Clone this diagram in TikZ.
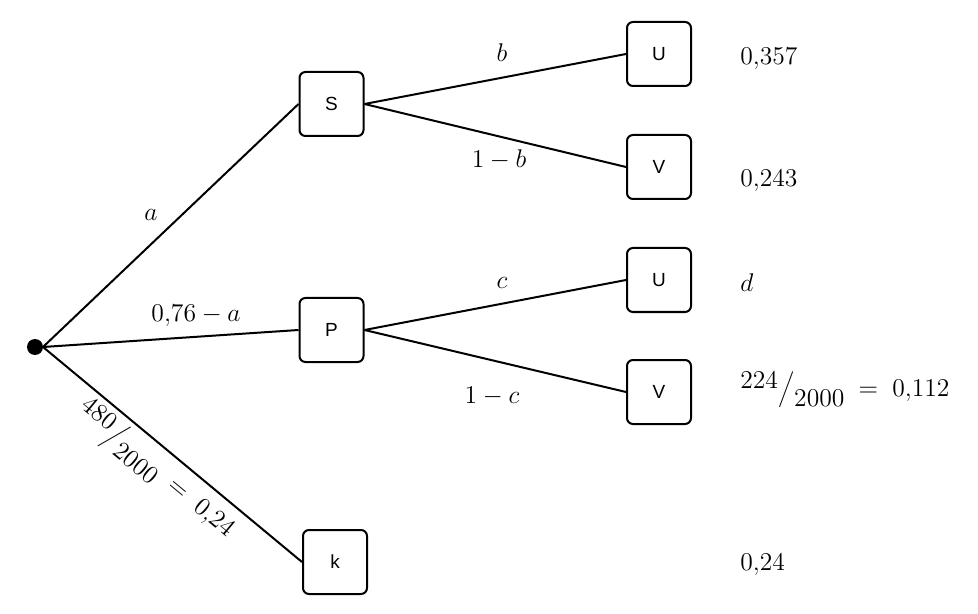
\RequirePackage{fix-cm}
\documentclass[tikz,border=0pt]{standalone}
\usepackage{fontspec}
\newfontfamily\boxfont{Liberation Sans}
\begin{document}
\begin{tikzpicture}[x=0.5pt,y=-0.5pt,
  leaf/.style={draw,line width=1pt,rounded corners=3pt,minimum width=32pt,minimum height=32pt,inner sep=0pt,font=\boxfont\fontsize{9.5}{11}\selectfont},
  branch/.style={line width=1pt},
  lbl/.style={inner sep=0pt,font=\fontsize{12.8}{15}\selectfont},
  res/.style={inner sep=0pt,anchor=west,font=\fontsize{12.8}{15}\selectfont}]
\useasboundingbox (0,0) rectangle (978,614);
\fill (35,347) circle (4pt);
\coordinate (r) at (43,347);
\node[leaf] (S) at (331.5,104) {S};
\node[leaf] (P) at (331.5,330) {P};
\node[leaf] (K) at (335,562) {k};
\node[leaf] (U1) at (659,54) {U};
\node[leaf] (V1) at (659,167) {V};
\node[leaf] (U2) at (659,280) {U};
\node[leaf] (V2) at (659,392) {V};
\draw[branch] (r) -- (S.west);
\draw[branch] (r) -- (P.west);
\draw[branch] (r) -- (K.west) node[pos=0.49,sloped,below=2pt,lbl] {$\raisebox{0.6ex}{$480$}\Big/\raisebox{-0.8ex}{$2000$}\;=\;0{,}24$};
\draw[branch] (S.east) -- (U1.west);
\draw[branch] (S.east) -- (V1.west);
\draw[branch] (P.east) -- (U2.west);
\draw[branch] (P.east) -- (V2.west);
\node[lbl] (la) at (151,215) {$a$};
\node[lbl] (lp) at (196,316) {$0{,}76-a$};
\node[lbl] (lb) at (502,53) {$b$};
\node[lbl] (lnb) at (499,160) {$1-b$};
\node[lbl] (lc) at (502,283) {$c$};
\node[lbl] (lnc) at (492,396) {$1-c$};
\node[res] (r1) at (740,59) {$0{,}357$};
\node[res] (r2) at (740,181) {$0{,}243$};
\node[res] (r3) at (740,283) {$d$};
\node[res] (r4) at (740,390) {$\raisebox{0.75ex}{$224$}\Big/\raisebox{-0.9ex}{$2000$}\;=\;0{,}112$};
\node[res] (r5) at (740,565) {$0{,}24$};
\end{tikzpicture}
\end{document}
